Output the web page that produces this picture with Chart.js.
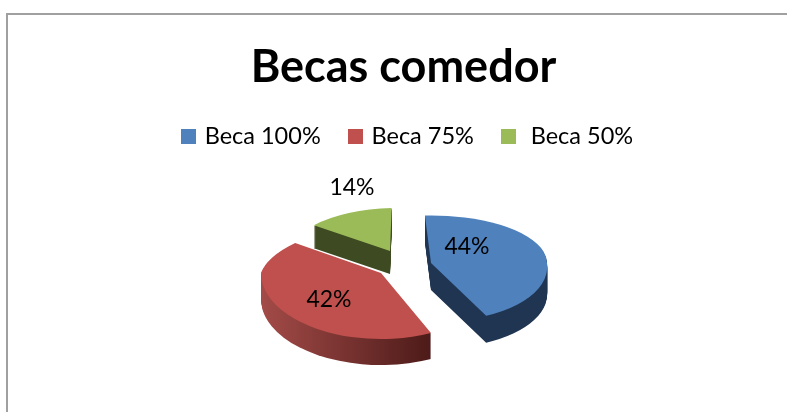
<!DOCTYPE html>
<html>
<head>
<meta charset="utf-8">
<style>
html,body{margin:0;padding:0;background:#fff;overflow:hidden}
#wrap{position:absolute;left:0;top:0;width:787px;height:412px;overflow:hidden}
#frame{position:absolute;left:6px;top:13px;width:820px;height:440px;border:2px solid #a0a0a0;box-sizing:border-box}
#pie{position:absolute;left:0;top:0}
</style>
<script src="https://cdn.jsdelivr.net/npm/chart.js@4"></script>
</head>
<body>
<div id="wrap">
<div id="frame"></div>
<canvas id="pie" width="807" height="412"></canvas>
</div>
<script>
const categories = ["Beca 100%", "Beca 75%", "Beca 50%"];
const values = [44, 42, 14];

const topColors = ["#4f81bd", "#c0504d", "#9bbb59"];
const wallColors = [["#1f3552", "#1f3552"], ["#a34b48", "#4d1b19"], ["#3e4a22", "#3e4a22"]];

// exploded look and tilt, per slice
const pull = [[27, -3], [-23, 7], [-14, -15]];
const sliceRadius = [116, 120, 100];
const squashUp = [0.41, 0.42, 0.43];
const squashDown = [0.50, 0.55, 0.43];
const leanUp = [0, -0.35, -0.16];
const leanDown = [0.13, 0, 0];
const depth = [27, 26, 23];
const labelShift = [[36, -16], [-52, 27], [-38, -63]];

// far half flatter than the near half, split at the slice apex
function tilted(ctx, arc, i, drop, paint) {
  const y = arc.y + drop;
  [[0, y, squashUp[i], leanUp[i]], [y, 500, squashDown[i], leanDown[i]]].forEach(p => {
    ctx.save();
    ctx.beginPath();
    ctx.rect(0, p[0], 900, p[1] - p[0]);
    ctx.clip();
    ctx.translate(arc.x, y);
    ctx.transform(1, 0, p[3], 1, 0, 0);
    ctx.scale(1, p[2]);
    ctx.translate(-arc.x, -arc.y);
    paint();
    ctx.restore();
  });
}

const fake3d = {
  id: "fake3d",
  afterLayout(chart) {
    chart.legend.left += 5;
    chart.legend.right += 5;
  },
  afterDatasetsUpdate(chart) {
    chart.getDatasetMeta(0).data.forEach((a, i) => {
      a.x = Math.round(a.x + pull[i][0]);
      a.y = Math.round(a.y + pull[i][1]);
      a.outerRadius = sliceRadius[i];
      const drawTop = a.draw;
      a.draw = function (ctx, area) {
        tilted(ctx, a, i, 0, () => drawTop.call(a, ctx, area));
      };
    });
  },
  beforeDatasetsDraw(chart) {
    const ctx = chart.ctx;
    const arcs = chart.getDatasetMeta(0).data;
    [2, 0, 1].forEach(i => {
      const a = arcs[i];
      const grad = ctx.createLinearGradient(a.x - a.outerRadius, 0, a.x + 49, 0);
      grad.addColorStop(0, wallColors[i][0]);
      grad.addColorStop(1, wallColors[i][1]);
      for (let d = depth[i]; d > 0; d--) {
        tilted(ctx, a, i, d, () => {
          ctx.beginPath();
          ctx.moveTo(a.x, a.y);
          ctx.arc(a.x, a.y, a.outerRadius, a.startAngle, a.endAngle);
          ctx.closePath();
          ctx.fillStyle = grad;
          ctx.fill();
        });
      }
    });
  },
  afterDatasetsDraw(chart) {
    const ctx = chart.ctx;
    const arcs = chart.getDatasetMeta(0).data;
    ctx.save();
    ctx.font = "23px Lato";
    ctx.fillStyle = "#000";
    ctx.textAlign = "center";
    ctx.textBaseline = "middle";
    values.forEach((v, i) => {
      ctx.fillText(v + "%", arcs[i].x + labelShift[i][0], arcs[i].y + labelShift[i][1]);
    });
    ctx.restore();
  }
};

function swatch(color) {
  const c = document.createElement("canvas");
  c.width = 15;
  c.height = 15;
  const g = c.getContext("2d");
  g.fillStyle = color;
  g.fillRect(0, 0, 15, 15);
  return c;
}

new Chart(document.getElementById("pie"), {
  type: "pie",
  data: {
    labels: categories,
    datasets: [{
      data: values,
      backgroundColor: topColors,
      borderWidth: 0,
      hoverOffset: 0
    }]
  },
  options: {
    responsive: false,
    animation: false,
    rotation: -3,
    layout: { padding: { bottom: 39 } },
    plugins: {
      tooltip: { enabled: false },
      title: {
        display: true,
        text: "Becas comedor",
        color: "#000",
        font: { family: "Lato", size: 45, weight: "bold" },
        padding: { top: 40, bottom: 1 }
      },
      legend: {
        position: "top",
        labels: {
          color: "#000",
          usePointStyle: true,
          pointStyleWidth: 9,
          padding: 30,
          font: { family: "Lato", size: 23.5 },
          generateLabels() {
            return categories.map((c, i) => ({
              text: i == 2 ? " " + c : c,
              pointStyle: swatch(topColors[i]),
              lineWidth: 0,
              index: i
            }));
          }
        }
      }
    }
  },
  plugins: [fake3d]
});
</script>
</body>
</html>
